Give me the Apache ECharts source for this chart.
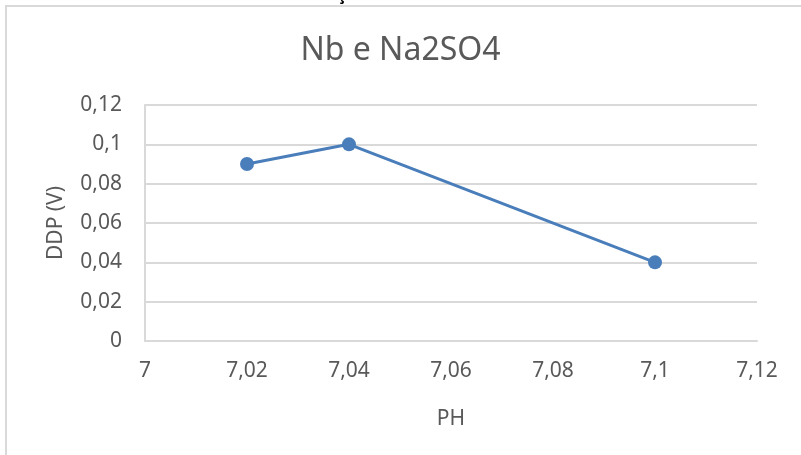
<!DOCTYPE html>
<html>
<head>
<meta charset="utf-8">
<script src="https://cdn.jsdelivr.net/npm/echarts@6/dist/echarts.min.js"></script>
<style>
  html, body { margin: 0; padding: 0; background: #fff; }
  #main { width: 801px; height: 455px; }
</style>
</head>
<body>
<div id="main"></div>
<script>
// dados do gráfico
const phValues = [7.02, 7.04, 7.1];
const ddpValues = [0.09, 0.1, 0.04];
const chartTitle = 'Nb e Na2SO4';
const xName = 'PH';
const yName = 'DDP (V)';

const textColor = '#595959';
const gridColor = '#d9d9d9';
const lineColor = '#4a7ebb';

// vírgula como separador decimal
function fmt(v) {
  return String(parseFloat(v.toFixed(2))).replace('.', ',');
}

const chart = echarts.init(document.getElementById('main'), null, { renderer: 'canvas' });

chart.setOption({
  backgroundColor: '#fff',
  animation: false,
  textStyle: { fontFamily: 'Noto Sans' },
  title: {
    text: chartTitle,
    left: 'center',
    top: 30,
    textStyle: { color: textColor, fontSize: 32, fontWeight: 'normal', fontFamily: 'Noto Sans' }
  },
  graphic: [
    {
      type: 'rect',
      shape: { x: 6, y: 6, width: 820, height: 470 },
      style: { fill: 'none', stroke: gridColor, lineWidth: 2 },
      silent: true
    },
    {
      type: 'text',
      left: 337,
      top: -13,
      style: { text: 'ç', fill: '#000', fontSize: 17, fontFamily: 'Noto Sans', fontWeight: 'bold' }
    }
  ],
  grid: { left: 145, right: 44, top: 105, bottom: 114 },
  xAxis: {
    type: 'value',
    min: 7,
    max: 7.12,
    interval: 0.02,
    name: xName,
    nameLocation: 'middle',
    nameGap: 68,
    nameTextStyle: { color: textColor, fontSize: 21 },
    axisLine: { show: true, lineStyle: { color: gridColor, width: 2 } },
    axisTick: { show: false },
    splitLine: { show: false },
    axisLabel: { color: textColor, fontSize: 21, margin: 20, formatter: fmt }
  },
  yAxis: {
    type: 'value',
    min: 0,
    max: 0.12,
    interval: 0.02,
    name: yName,
    nameLocation: 'middle',
    nameGap: 78,
    nameTextStyle: { color: textColor, fontSize: 21 },
    axisLine: { show: true, lineStyle: { color: gridColor, width: 2 } },
    axisTick: { show: false },
    splitLine: { show: true, lineStyle: { color: gridColor, width: 2 } },
    axisLabel: { color: textColor, fontSize: 21, margin: 23, formatter: fmt }
  },
  series: [
    {
      type: 'line',
      data: phValues.map((x, i) => [x, ddpValues[i]]),
      symbol: 'circle',
      symbolSize: 14,
      lineStyle: { color: lineColor, width: 3 },
      itemStyle: { color: lineColor }
    }
  ]
});
</script>
</body>
</html>
